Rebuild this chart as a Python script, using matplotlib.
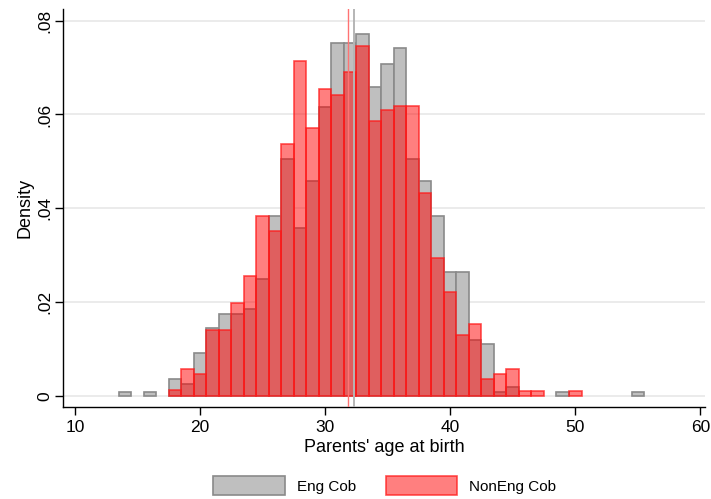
import matplotlib
matplotlib.use("Agg")
import matplotlib.pyplot as plt
from matplotlib.patches import Patch

plt.rcParams['font.family'] = ['Liberation Sans', 'DejaVu Sans']

# bin centers (age), width 1
ages = list(range(14, 56))

eng_density = [0.00085, 0, 0.00085, 0, 0.0036, 0.0026, 0.0092, 0.0145, 0.0174, 0.0174,
               0.0184, 0.0248, 0.0384, 0.0504, 0.0357, 0.0459, 0.0615, 0.0752, 0.0752, 0.0771,
               0.0659, 0.0707, 0.0742, 0.0504, 0.0458, 0.0384, 0.0265, 0.0265, 0.0119, 0.0110,
               0.00085, 0.0018, 0, 0, 0, 0.00085, 0, 0, 0, 0, 0, 0.00085]

noneng_density = [0, 0, 0, 0, 0.0012, 0.0058, 0.0046, 0.0140, 0.0140, 0.0198,
                  0.0256, 0.0384, 0.0351, 0.0538, 0.0713, 0.0572, 0.0655, 0.0642, 0.0690, 0.0747,
                  0.0585, 0.0609, 0.0618, 0.0618, 0.0432, 0.0293, 0.0222, 0.0129, 0.0152, 0.0035,
                  0.0046, 0.0058, 0.0011, 0.0011, 0, 0, 0.0011, 0, 0, 0, 0, 0]

eng_mean = 32.27
noneng_mean = 31.81

xticks = [10, 20, 30, 40, 50, 60]
yticks = [0, 0.02, 0.04, 0.06, 0.08]
ytick_labels = ['0', '.02', '.04', '.06', '.08']


def nonzero(xs, ys):
    pairs = [(x, y) for x, y in zip(xs, ys) if y > 0]
    return [p[0] for p in pairs], [p[1] for p in pairs]


fig = plt.figure(figsize=(7.11, 4.99), dpi=100)
ax = fig.add_axes([0.0893, 0.1844, 0.9027, 0.7976])

ax.set_axisbelow(True)
ax.yaxis.grid(True, color='#e8e8e8', linewidth=1.2)

ex, ey = nonzero(ages, eng_density)
nx, ny = nonzero(ages, noneng_density)
ax.bar(ex, ey, width=1.0, facecolor='#bfbfbf', edgecolor='#8a8a8a',
       linewidth=1.2, zorder=2)
ax.bar(nx, ny, width=1.0, facecolor=(1, 0, 0, 0.5),
       edgecolor=(1, 0.1, 0.1, 0.75), linewidth=1.2, zorder=3)

ax.axvline(noneng_mean, color=(1, 0.45, 0.45), linewidth=1.0, zorder=4)
ax.axvline(eng_mean, color='#b5b5b5', linewidth=1.4, zorder=4)

ax.set_xlim(9.08, 60.4)
ax.set_ylim(-0.0024, 0.0825)
ax.set_xticks(xticks)
ax.set_yticks(yticks)
ax.set_yticklabels(ytick_labels, rotation=90, va='center')
ax.tick_params(axis='both', direction='out', length=6, width=1, labelsize=12.5, colors='black')
ax.tick_params(axis='y', pad=2)

for s in ['top', 'right']:
    ax.spines[s].set_visible(False)
for s in ['left', 'bottom']:
    ax.spines[s].set_linewidth(1.0)

ax.set_xlabel("Parents' age at birth", fontsize=13, labelpad=3)
ax.set_ylabel("Density", fontsize=13, labelpad=3)

handles = [Patch(facecolor='#bfbfbf', edgecolor='#8a8a8a', linewidth=1.2, label='Eng Cob'),
           Patch(facecolor=(1, 0, 0, 0.5), edgecolor=(1, 0.1, 0.1, 0.75), linewidth=1.2,
                 label='NonEng Cob')]
fig.legend(handles=handles, loc='center', bbox_to_anchor=(0.541, 0.027), ncol=2,
           frameon=False, fontsize=11, handlelength=4.7, handleheight=1.5,
           columnspacing=1.95, handletextpad=0.75)

fig.savefig('out.png', dpi=100)
